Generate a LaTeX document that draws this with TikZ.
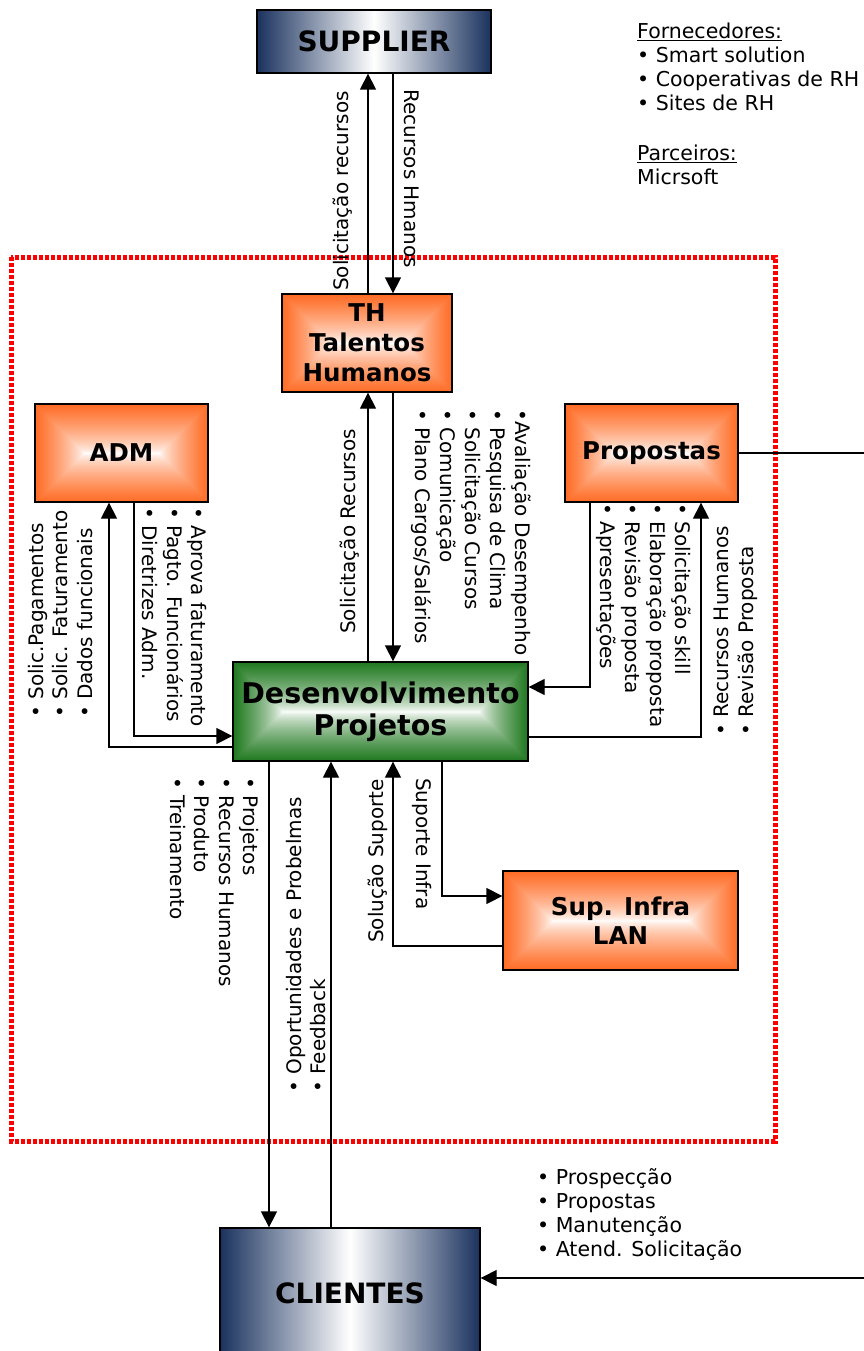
\documentclass[tikz,border=0pt]{standalone}
\usepackage{fontspec}
\setmainfont{DejaVu Sans}
\usetikzlibrary{arrows.meta,calc}
% frame-like "from centre" shading: #2 = width/height of the box, #3-#5 = 1 - edge colour (r,g,b)
\newcommand\defrectshading[5]{%
  \pgfdeclarefunctionalshading{#1}{\pgfpoint{-50bp}{-50bp}}{\pgfpoint{50bp}{50bp}}{}{abs 25 div exch abs 25 div 1 exch sub #2 mul 1 exch sub 2 copy lt {exch} if pop 0.7 exp dup #3 mul 1 exch sub exch dup #4 mul 1 exch sub exch #5 mul 1 exch sub}}
\defrectshading{orTH}{1.735}{0}{0.58}{0.86}
\defrectshading{orAD}{1.765}{0}{0.58}{0.86}
\defrectshading{orSI}{2.374}{0}{0.58}{0.86}
\defrectshading{grDP}{2.98}{0.88}{0.53}{0.88}
\definecolor{navy}{RGB}{26,50,94}
\begin{document}
\begin{tikzpicture}[x=1pt,y=-1pt,
  box/.style={draw=black,line width=1.3pt,inner sep=0pt,align=center},
  obox/.style={box,minimum height=98pt,font=\fontsize{24.5}{30}\selectfont\bfseries},
  nbox/.style={box,left color=navy,right color=navy,middle color=white,font=\fontsize{28}{32}\selectfont\bfseries},
  arr/.style={line width=1.3pt,-{Triangle[length=16pt,width=16pt]}},
  lbl/.style={inner sep=0pt,align=left,font=\fontsize{20}{24.5}\selectfont},
  zone/.style={red,line width=5pt,dash pattern=on 4.2pt off 1.8pt},
]
\useasboundingbox (0,0) rectangle (864,1351);
\fill[white] (0,0) rectangle (864,1351);
\draw[zone] (11,257) rectangle (775,1141);

% boxes
\node[nbox,minimum width=234pt,minimum height=63pt] (SUP) at (374,41.5) {SUPPLIER};
\node[obox,shading=orTH,minimum width=170pt] (TH) at (367,343) {TH\\Talentos\\Humanos};
\node[obox,shading=orAD,minimum width=173pt] (ADM) at (121.5,453) {ADM};
\node[obox,shading=orAD,minimum width=173pt] (PR) at (651.5,453) {Propostas};
\node[box,shading=grDP,minimum width=295pt,minimum height=99pt,font=\fontsize{28.5}{32}\selectfont\bfseries] (DP) at (380.5,711.5) {Desenvolvimento\\Projetos};
\node[obox,shading=orSI,minimum width=235pt,minimum height=99pt,font=\fontsize{24.5}{29}\selectfont\bfseries] (SI) at (620.5,920.5) {Sup. Infra\\LAN};
\node[nbox,minimum width=260pt,minimum height=130pt] (CL) at (350,1293) {CLIENTES};

% helper coordinates
\coordinate (xa) at (368,0);
\coordinate (xb) at (393,0);
\coordinate (xc) at (109,0);
\coordinate (xd) at (134,0);
\coordinate (xe) at (590,0);
\coordinate (xf) at (701,0);
\coordinate (xg) at (880,0);
\coordinate (xh) at (269,0);
\coordinate (xi) at (331,0);
\coordinate (xj) at (442,0);
\coordinate (ya) at (0,747);
\coordinate (yb) at (0,736);
\coordinate (yc) at (0,687);
\coordinate (yd) at (0,737);
\coordinate (ye) at (0,1278);
\coordinate (yf) at (0,896);
\coordinate (yg) at (0,946);

% connectors
\draw[arr] (xa |- TH.north) -- (xa |- SUP.south);
\draw[arr] (xb |- SUP.south) -- (xb |- TH.north);
\draw[arr] (xa |- DP.north) -- (xa |- TH.south);
\draw[arr] (xb |- TH.south) -- (xb |- DP.north);
\draw[arr] (DP.west |- ya) -| (xc |- ADM.south);
\draw[arr] (xd |- ADM.south) |- (DP.west |- yb);
\draw[arr] (xe |- PR.south) |- (DP.east |- yc);
\draw[arr] (DP.east |- yd) -| (xf |- PR.south);
\draw[arr] (PR.east) -| (xg |- ye) -- (CL.east |- ye);
\draw[arr] (xh |- DP.south) -- (xh |- CL.north);
\draw[arr] (xi |- CL.north) -- (xi |- DP.south);
\draw[arr] (xj |- DP.south) |- (SI.west |- yf);
\draw[arr] (SI.west |- yg) -| (xb |- DP.south);

% labels
\node[lbl,rotate=90,anchor=north west] (l1) at (331,291) {\strut Solicitação recursos};
\node[lbl,rotate=-90,anchor=north west] (l2) at (421.5,89) {\strut Recursos Hmanos};
\node[lbl,rotate=90,anchor=north west] (l3) at (338,634) {\strut Solicitação Recursos};
\node[lbl,rotate=-90,anchor=north west,font=\fontsize{20}{25}\selectfont] (l4) at (533,409) {\strut•Avaliação Desempenho\\• Pesquisa de Clima\\• Solicitação Cursos\\• Comunicação\\• Plano Cargos/Salários};
\node[lbl,rotate=90,anchor=north west] (l5) at (26,718) {\strut• Solic.Pagamentos\\• Solic. Faturamento\\• Dados funcionais};
\node[lbl,rotate=-90,anchor=north west] (l6) at (209,507) {\strut• Aprova faturamento\\• Pagto. Funcionários\\• Diretrizes Adm.};
\node[lbl,rotate=-90,anchor=north west,font=\fontsize{20}{25}\selectfont] (l7) at (693,503) {\strut• Solicitação skill\\• Elaboração proposta\\• Revisão proposta\\• Apresentações};
\node[lbl,rotate=90,anchor=north west,font=\fontsize{20}{25}\selectfont] (l8) at (711,736) {\strut• Recursos Humanos\\• Revisão Proposta};
\node[lbl,rotate=-90,anchor=north west] (l9) at (261,777) {\strut• Projetos\\• Recursos Humanos\\• Produto\\• Treinamento};
\node[lbl,rotate=90,anchor=north west] (l10) at (284,1093) {\strut• Oportunidades e Probelmas\\• Feedback};
\node[lbl,rotate=90,anchor=north west] (l11) at (366,943) {\strut Solução Suporte};
\node[lbl,rotate=-90,anchor=north west] (l12) at (434,778) {\strut Suporte Infra};
\node[lbl,anchor=north west,font=\fontsize{20.5}{24}\selectfont] (forn) at (637,22) {\strut\underline{Fornecedores:}\\• Smart solution\\• Cooperativas de RH\\• Sites de RH\\[26pt]\underline{Parceiros:}\\Micrsoft};
\node[lbl,anchor=north west,font=\fontsize{20.5}{24}\selectfont] (serv) at (537,1167) {\strut• Prospecção\\• Propostas\\• Manutenção\\• Atend. Solicitação};
\end{tikzpicture}
\end{document}
